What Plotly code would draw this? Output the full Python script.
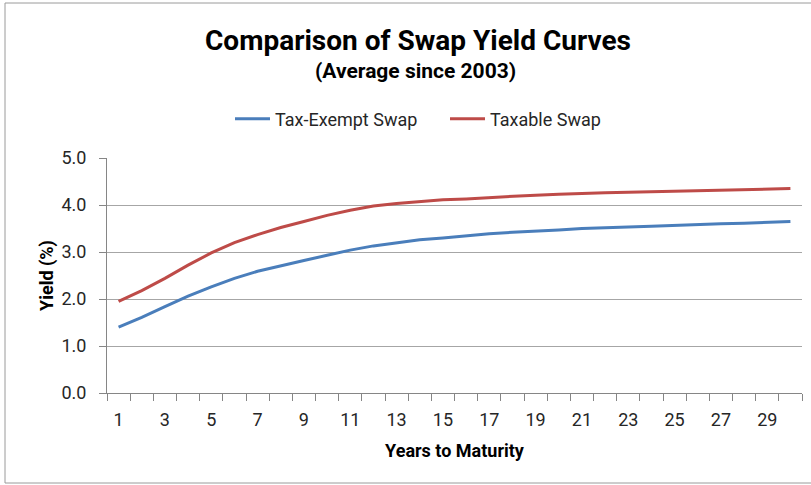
import plotly.graph_objects as go

# Maturities (years) and average swap yields (%)
years = list(range(1, 31))
tax_exempt = [1.40, 1.61, 1.84, 2.06, 2.26, 2.44, 2.59, 2.71, 2.82, 2.93,
              3.04, 3.13, 3.20, 3.26, 3.30, 3.35, 3.39, 3.42, 3.44, 3.47,
              3.50, 3.51, 3.53, 3.55, 3.57, 3.58, 3.60, 3.61, 3.63, 3.65]
taxable = [1.95, 2.18, 2.44, 2.72, 2.98, 3.20, 3.37, 3.52, 3.65, 3.78,
           3.89, 3.98, 4.03, 4.07, 4.11, 4.13, 4.16, 4.19, 4.21, 4.23,
           4.25, 4.26, 4.27, 4.28, 4.30, 4.31, 4.31, 4.33, 4.34, 4.35]
x_labels = [str(y) for y in years if y % 2 == 1]
y_ticks = [0, 1, 2, 3, 4, 5]

W, H = 811, 485
ML, MR, MT, MB = 107, 9, 158, 92
FONT = "Roboto"
TXT = "#262626"
GRID = "#a6a6a6"
AXIS = "#868686"

fig = go.Figure()
fig.add_trace(go.Scatter(x=years, y=tax_exempt, name="Tax-Exempt Swap", mode="lines",
                         line=dict(color="#4a7ebb", width=3)))
fig.add_trace(go.Scatter(x=years, y=taxable, name="Taxable Swap", mode="lines",
                         line=dict(color="#be4b48", width=3)))

# category boundaries for the small tick marks
bounds = [y - 0.5 for y in years] + [years[-1] + 0.5]

fig.update_layout(
    width=W, height=H,
    margin=dict(l=ML, r=MR, t=MT, b=MB),
    paper_bgcolor="white", plot_bgcolor="white",
    font=dict(family=FONT, color=TXT, size=15),
    title=dict(text="<b>Comparison of Swap Yield Curves</b>",
               x=418 / W, xanchor="center", xref="container",
               y=1 - 40 / H, yanchor="middle", yref="container",
               font=dict(size=28, color="#000000", family=FONT)),
    legend=dict(orientation="h", xref="container", yref="container",
                x=230 / W, xanchor="left", y=1 - 119 / H, yanchor="middle",
                font=dict(size=18, color=TXT), itemwidth=35, entrywidth=165,
                bgcolor="rgba(0,0,0,0)"),
    showlegend=True,
)

pw, ph = W - ML - MR, H - MT - MB
fig.add_annotation(text="<b>(Average since 2003)</b>", xref="paper", yref="paper",
                   x=(415 - ML) / pw, y=1 + (MT - 71) / ph,
                   xanchor="center", yanchor="middle", showarrow=False,
                   font=dict(size=21, color="#000000", family=FONT))

fig.update_xaxes(
    range=[0.5, 30.5],
    tickmode="array", tickvals=[int(v) for v in x_labels], ticktext=x_labels,
    ticks="", showgrid=False, zeroline=False,
    showline=True, linecolor=AXIS, linewidth=1,
    tickfont=dict(size=18, color=TXT),
    ticklabelstandoff=10,
    minor=dict(tickmode="array", tickvals=bounds, ticks="outside", ticklen=7,
               tickcolor=AXIS, showgrid=False),
    title=dict(text="<b>Years to Maturity</b>", font=dict(size=18, color="#000000"),
               standoff=15),
)
fig.update_yaxes(
    range=[0, 5],
    tickmode="array", tickvals=y_ticks, ticktext=[f"{v:.1f}" for v in y_ticks],
    ticks="outside", ticklen=7, tickcolor=AXIS,
    ticklabelstandoff=9,
    showgrid=True, gridcolor=GRID, gridwidth=1, zeroline=False,
    showline=True, linecolor=AXIS, linewidth=1,
    tickfont=dict(size=18, color=TXT),
    title=dict(text="<b>Yield (%)</b>", font=dict(size=18, color="#000000"),
               standoff=3),
)

# outer chart frame
fig.add_shape(type="rect", xref="paper", yref="paper",
              x0=(5 - ML) / pw, x1=(W + 5 - ML) / pw,
              y0=(H - MB - 483) / ph, y1=(H - MB - 3) / ph,
              line=dict(color="#9a9a9a", width=1), layer="below")

fig.write_html("out.html")
